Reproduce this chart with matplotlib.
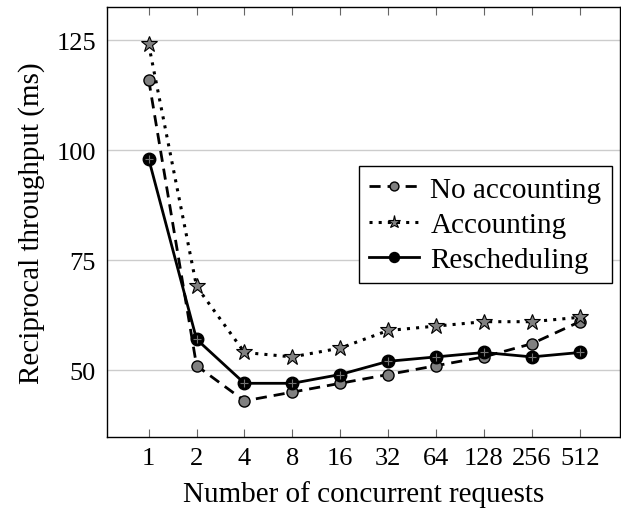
import numpy as np
import matplotlib
matplotlib.use('Agg')
import matplotlib.pyplot as plt

plt.rcParams['font.family'] = ['Liberation Serif', 'DejaVu Serif']
plt.rcParams['mathtext.fontset'] = 'stix'

requests = ['1', '2', '4', '8', '16', '32', '64', '128', '256', '512']
no_accounting = [116, 51, 43, 45, 47, 49, 51, 53, 56, 61]
accounting = [124, 69, 54, 53, 55, 59, 60, 61, 61, 62]
rescheduling = [98, 57, 47, 47, 49, 52, 53, 54, 53, 54]

x = np.arange(len(requests))

fig = plt.figure(figsize=(6.21, 5.10), dpi=100)
ax = fig.add_axes([107/621, 72/510, 513/621, 430/510])

ax.plot(x, no_accounting, color='black', linestyle=(0, (4, 2.5)), linewidth=2,
        marker='o', markersize=8, markerfacecolor='gray', markeredgecolor='black',
        markeredgewidth=1.0, label='No accounting', zorder=3)
ax.plot(x, accounting, color='black', linestyle=(0, (1, 2)), linewidth=2.2,
        marker='*', markersize=12, markerfacecolor='gray', markeredgecolor='black',
        markeredgewidth=0.8, label='Accounting', zorder=3)
ax.plot(x, rescheduling, color='black', linestyle='-', linewidth=2,
        marker='o', markersize=9, markerfacecolor='black', markeredgecolor='black',
        label='Rescheduling', zorder=3)
# small cross inside the rescheduling markers
ax.plot(x, rescheduling, linestyle='none', marker='+', markersize=6,
        markeredgecolor='0.45', markeredgewidth=0.8, zorder=4)

ax.set_xlim(-0.87, 9.84)
ax.set_ylim(34.8, 132.5)
ax.set_xticks(x)
ax.set_xticklabels(requests)
ax.set_yticks([50, 75, 100, 125])
ax.grid(axis='y', color='0.8', linewidth=1)
ax.set_axisbelow(True)
ax.tick_params(axis='x', direction='in', top=True, length=6, width=0.8, color='0.4',
               labelsize=19, pad=7)
ax.tick_params(axis='y', direction='in', length=0, labelsize=19, pad=8)
for s in ax.spines.values():
    s.set_linewidth(1.0)

ax.set_xlabel('Number of concurrent requests', fontsize=21, labelpad=8)
ax.set_ylabel('Reciprocal throughput (ms)', fontsize=21, labelpad=8)

leg = ax.legend(loc='upper left', bbox_to_anchor=(252/513, (438-167)/430),
                fontsize=21, frameon=True, fancybox=False, edgecolor='black',
                handlelength=1.7, borderpad=0.35, labelspacing=0.3,
                handletextpad=0.4, borderaxespad=0, markerscale=0.8)
leg.get_frame().set_linewidth(1.0)
leg.get_frame().set_alpha(1)

fig.savefig('out.png', dpi=100)
